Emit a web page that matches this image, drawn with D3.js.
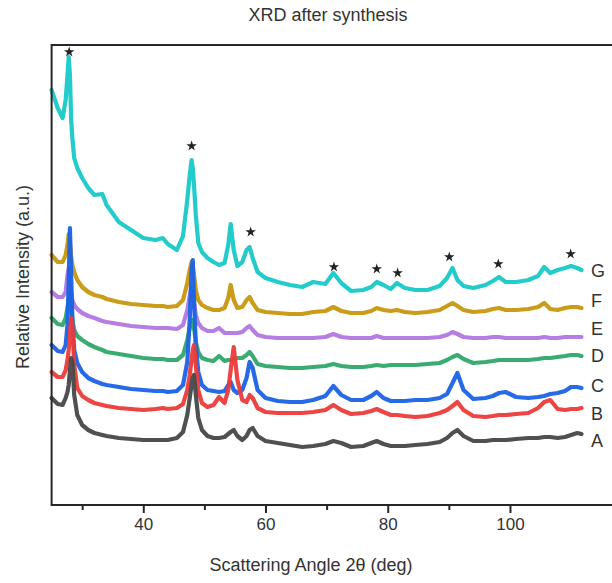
<!DOCTYPE html>
<html><head><meta charset="utf-8">
<script src="https://cdn.jsdelivr.net/npm/d3@7"></script>
<style>html,body{margin:0;padding:0;background:#fff;} svg{display:block;font-family:"Liberation Sans", Arial, sans-serif;}</style>
</head><body><svg id="chart" width="612" height="583"></svg>
<script>
// 2θ sampling angles (deg)
const angles = [25.0, 26.0, 26.8, 27.3, 27.6, 27.8, 28.0, 28.2, 28.4, 28.7,
  29.2, 30.0, 31.0, 32.0, 33.3, 34.0, 36.0, 38.0, 40.0, 42.0,
  43.2, 44.0, 45.5, 46.5, 47.2, 47.6, 47.9, 48.1, 48.3, 48.6,
  49.0, 49.6, 50.5, 51.5, 52.4, 53.3, 53.9, 54.3, 54.8, 55.4,
  56.2, 56.9, 57.4, 57.9, 58.7, 60.0, 62.0, 64.0, 66.0, 67.8,
  69.8, 71.1, 72.4, 74.0, 76.0, 77.3, 78.2, 79.3, 80.5, 81.5,
  82.8, 84.5, 86.5, 88.5, 89.7, 90.6, 91.4, 92.4, 94.0, 96.0,
  97.2, 98.2, 99.3, 101.0, 103.0, 104.6, 105.6, 106.6, 107.8, 109.0,
  110.0, 111.0, 111.7];

// Relative intensity (a.u., stacked with offsets)
const intensityA = [107, 101, 100, 107, 113, 120, 135, 147, 143, 110,
  90, 80, 75, 72, 70, 69, 67, 66, 65, 65,
  65, 65, 67, 73, 90, 107, 120, 127, 130, 110,
  87, 75, 69, 67, 67, 68, 71, 73, 75, 69,
  65, 69, 75, 77, 69, 64, 62, 60, 58, 59,
  61, 64, 62, 58, 59, 62, 64, 61, 59, 59,
  59, 60, 61, 63, 67, 72, 75, 69, 64, 64,
  65, 65, 65, 66, 67, 67, 68, 68, 67, 68,
  70, 72, 71];
const intensityB = [133, 128, 128, 135, 145, 155, 170, 187, 180, 140,
  117, 109, 105, 102, 100, 99, 97, 96, 95, 96,
  97, 96, 97, 101, 115, 130, 145, 155, 160, 140,
  115, 102, 98, 100, 108, 102, 115, 135, 158, 125,
  105, 103, 110, 107, 97, 93, 92, 92, 92, 93,
  95, 100, 95, 91, 92, 94, 96, 93, 90, 90,
  89, 88, 89, 92, 95, 99, 103, 95, 89, 88,
  89, 90, 90, 91, 92, 97, 103, 105, 96, 95,
  96, 96, 97];
const intensityC = [160, 154, 153, 160, 180, 225, 277, 230, 185, 155,
  142, 133, 127, 124, 121, 120, 118, 116, 115, 114,
  114, 113, 114, 120, 143, 185, 235, 245, 205, 160,
  133, 120, 115, 114, 113, 114, 120, 123, 115, 112,
  115, 127, 143, 137, 115, 107, 104, 103, 103, 105,
  109, 119, 110, 105, 105, 109, 113, 107, 104, 104,
  104, 105, 105, 107, 111, 122, 132, 115, 106, 107,
  109, 112, 113, 108, 107, 108, 109, 111, 112, 114,
  118, 118, 117];
const intensityD = [187, 181, 180, 187, 197, 205, 213, 200, 185, 175,
  169, 165, 161, 158, 155, 153, 151, 149, 147, 146,
  146, 145, 145, 150, 165, 177, 184, 185, 177, 163,
  153, 147, 145, 144, 149, 144, 145, 145, 146, 147,
  147, 150, 153, 149, 141, 139, 138, 137, 137, 138,
  139, 141, 139, 138, 138, 139, 140, 139, 140, 140,
  140, 140, 141, 142, 145, 148, 150, 146, 142, 143,
  144, 145, 145, 145, 145, 146, 147, 147, 148, 149,
  150, 150, 149];
const intensityE = [213, 208, 208, 213, 230, 237, 227, 212, 205, 200,
  196, 192, 189, 187, 184, 183, 181, 179, 178, 177,
  177, 177, 176, 180, 195, 209, 218, 213, 203, 190,
  182, 177, 174, 174, 177, 172, 172, 172, 172, 172,
  173, 177, 179, 175, 170, 168, 167, 167, 167, 167,
  168, 171, 168, 167, 167, 167, 169, 167, 167, 167,
  167, 167, 167, 168, 170, 173, 171, 168, 167, 167,
  168, 168, 167, 167, 167, 167, 168, 167, 167, 168,
  168, 168, 168];
const intensityF = [250, 243, 243, 250, 260, 271, 263, 249, 240, 233,
  225, 218, 213, 210, 208, 206, 203, 201, 200, 199,
  199, 198, 199, 205, 222, 235, 243, 239, 230, 215,
  205, 200, 197, 195, 195, 197, 207, 220, 205, 197,
  198, 205, 208, 202, 195, 193, 192, 191, 191, 193,
  194, 198, 194, 192, 192, 194, 197, 195, 194, 195,
  193, 192, 193, 195, 199, 202, 199, 195, 193, 194,
  196, 197, 195, 195, 196, 198, 202, 196, 195, 197,
  198, 198, 197];
const intensityG = [415, 397, 387, 405, 430, 448, 430, 385, 367, 347,
  337, 327, 317, 310, 311, 300, 283, 275, 267, 265,
  267, 261, 255, 269, 305, 330, 345, 337, 320, 290,
  262, 253, 247, 243, 240, 242, 260, 281, 255, 239,
  243, 255, 258, 247, 233, 227, 223, 220, 218, 223,
  221, 232, 222, 214, 215, 218, 223, 220, 216, 222,
  217, 215, 215, 219, 227, 237, 225, 219, 217, 220,
  224, 228, 223, 223, 225, 229, 238, 232, 235, 237,
  239, 237, 235];

const seriesNames = ["A", "B", "C", "D", "E", "F", "G"];
const seriesColors = ["#474747", "#ec3a3a", "#1a62e6", "#2fa86a", "#b276e2", "#c8960e", "#18c8c8"];
const seriesValues = [intensityA, intensityB, intensityC, intensityD, intensityE, intensityF, intensityG];
const labelLevels = [65, 92, 120, 150, 177, 205, 235];

// star markers (reflection positions)
const starAngles = [27.88, 47.91, 57.57, 71.2, 78.2, 81.62, 90.07, 98.09, 109.93];
const starLevels = [453, 359, 273, 238, 236, 232, 248, 241, 251];

const majorTicks = [40, 60, 80, 100];
const minorTicks = [30, 50, 70, 90];

const svg = d3.select("#chart");
const x = d3.scaleLinear().domain([25, 120]).range([51.6, 632.2]);
const y = d3.scaleLinear().domain([0, 460]).range([505, 45]);
const axisColor = "#262626";

// frame
svg.append("line").attr("x1", x(25)).attr("x2", 612).attr("y1", y(460)).attr("y2", y(460))
  .attr("stroke", axisColor).attr("stroke-width", 2);

// series (top first so lower ones overlay)
const line = d3.line().x(d => x(d[0])).y(d => y(d[1])).curve(d3.curveLinear);
for (let i = seriesValues.length - 1; i >= 0; i--) {
  const pts = angles.map((a, j) => [a, seriesValues[i][j]]);
  svg.append("path").datum(pts).attr("d", line)
    .attr("fill", "none").attr("stroke", seriesColors[i]).attr("stroke-opacity", 0.95)
    .attr("stroke-width", 4.2).attr("stroke-linejoin", "round").attr("stroke-linecap", "round");
}

// x axis
const xAxis = d3.axisBottom(x).tickValues(majorTicks).tickSize(8).tickPadding(5).tickFormat(d3.format("d"));
const gx = svg.append("g").attr("transform", `translate(0,${y(0)})`).call(xAxis);
gx.select(".domain").attr("d", `M${x(25)},0H612`).attr("stroke", axisColor).attr("stroke-width", 2);
gx.selectAll(".tick line").attr("stroke", axisColor).attr("stroke-width", 2);
gx.selectAll(".tick text").attr("font-size", 17).attr("fill", "#333").attr("font-family", "Liberation Sans, Arial, sans-serif");
const xMinor = d3.axisBottom(x).tickValues(minorTicks).tickSize(5).tickFormat("");
const gxm = svg.append("g").attr("transform", `translate(0,${y(0)})`).call(xMinor);
gxm.select(".domain").remove();
gxm.selectAll(".tick line").attr("stroke", axisColor).attr("stroke-width", 2);

// y axis line
svg.append("line").attr("x1", x(25)).attr("x2", x(25)).attr("y1", y(460) - 1).attr("y2", y(0) + 1)
  .attr("stroke", axisColor).attr("stroke-width", 2);

// stars
svg.selectAll("path.star").data(starAngles).join("path").attr("class", "star")
  .attr("d", d3.symbol(d3.symbolStar, 34))
  .attr("transform", (d, i) => `translate(${x(d)},${y(starLevels[i])})`)
  .attr("fill", "#222");

// series labels
svg.selectAll("text.lab").data(seriesNames).join("text").attr("class", "lab")
  .attr("x", 591).attr("y", (d, i) => y(labelLevels[i]) + 6.5)
  .attr("font-size", 18).attr("fill", "#333").text(d => d);

// titles
svg.append("text").attr("x", 328).attr("y", 21).attr("text-anchor", "middle")
  .attr("font-size", 18).attr("fill", "#333").text("XRD after synthesis");
svg.append("text").attr("x", 311).attr("y", 571).attr("text-anchor", "middle")
  .attr("font-size", 18).attr("fill", "#333").text("Scattering Angle 2θ (deg)");
svg.append("text").attr("transform", "translate(29,277) rotate(-90)").attr("text-anchor", "middle")
  .attr("font-size", 18).attr("fill", "#333").text("Relative Intensity (a.u.)");
</script></body></html>
